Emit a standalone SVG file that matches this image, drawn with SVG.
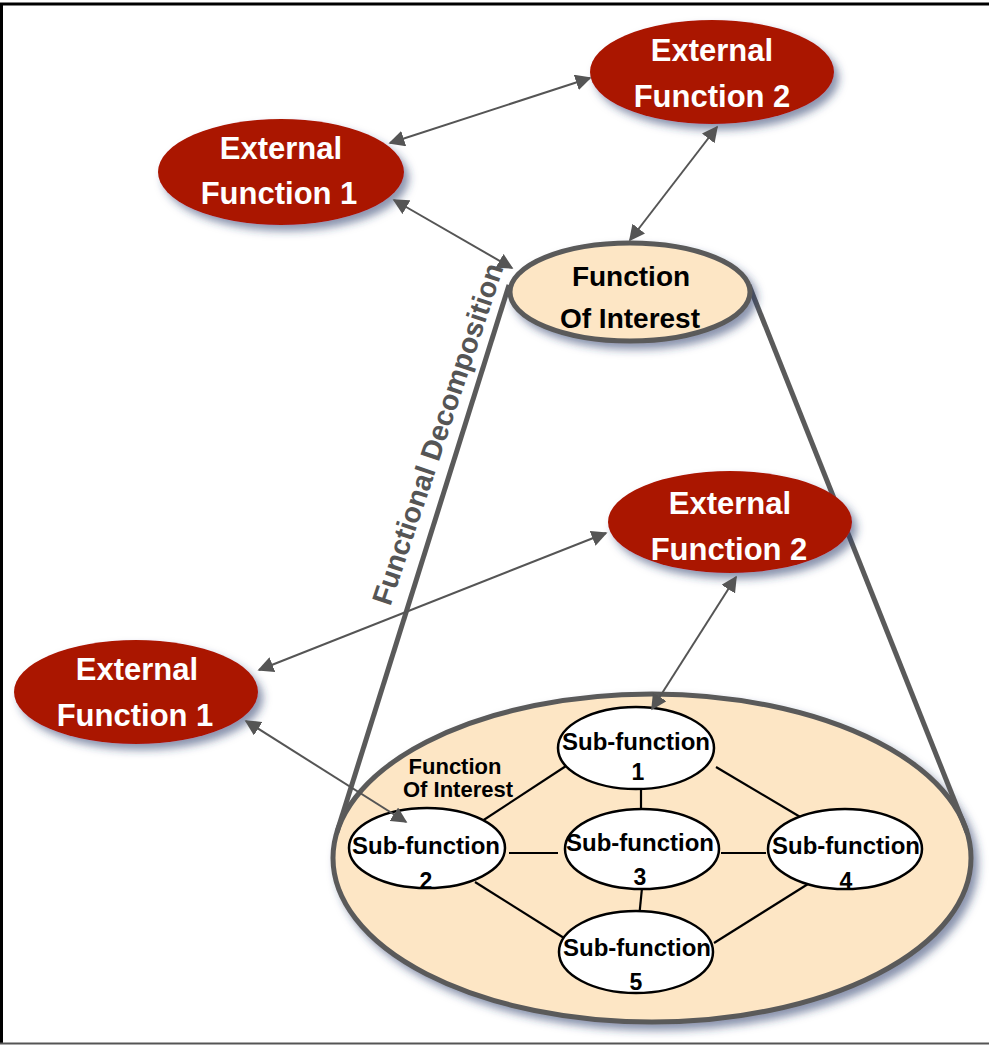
<svg xmlns="http://www.w3.org/2000/svg" width="989" height="1045" viewBox="0 0 989 1045">
<defs>
<filter id="sh" x="-20%" y="-20%" width="150%" height="160%">
<feDropShadow dx="5" dy="6" stdDeviation="4" flood-color="#2b3a6b" flood-opacity="0.55"/>
</filter>
<marker id="ahl" viewBox="0 0 10 10" refX="9" refY="5" markerWidth="8" markerHeight="8" orient="auto-start-reverse">
<path d="M0,0 L10,5 L0,10 z" fill="#555"/>
</marker>
<style>
.ext{fill:#aa1500;filter:url(#sh);}
.foi{fill:#fde6c5;stroke:#5a5a5a;stroke-width:5;filter:url(#sh);}
.sub{fill:#fff;stroke:#000;stroke-width:2.5;}
.wt{font-family:"Liberation Sans",Arial,sans-serif;font-weight:bold;fill:#fff;font-size:31px;text-anchor:middle;}
.bt{font-family:"Liberation Sans",Arial,sans-serif;font-weight:bold;fill:#000;text-anchor:middle;}
.arr{stroke:#555;stroke-width:2;fill:none;marker-start:url(#ahl);marker-end:url(#ahl);}
.lnk{stroke:#000;stroke-width:2.2;}
.side{stroke:#5a5a5a;stroke-width:5;fill:none;}
</style>
</defs>
<rect width="989" height="1045" fill="#fff"/>
<path d="M1.5,1043 L1.5,4 L989,4" fill="none" stroke="#000" stroke-width="3"/>
<line x1="0" y1="1043.5" x2="989" y2="1043.5" stroke="#555" stroke-width="2"/>

<g id="big-foi">
<ellipse class="foi" cx="652" cy="858" rx="319" ry="164"/>
<text class="bt" font-size="22" x="455" y="774">Function</text>
<text class="bt" font-size="22" x="458" y="797">Of Interest</text>
</g>

<g id="sides">
<line class="side" x1="509" y1="285" x2="337" y2="832"/>
<line class="side" x1="749" y1="285" x2="967" y2="832"/>
<text font-family="Liberation Sans,Arial,sans-serif" font-weight="bold" font-size="28.5" fill="#555" text-anchor="middle" transform="translate(447,437) rotate(-71.5)">Functional Decomposition</text>
</g>

<g id="sub-links">
<line class="lnk" x1="566" y1="766" x2="476" y2="825"/>
<line class="lnk" x1="641" y1="782" x2="641" y2="816"/>
<line class="lnk" x1="716" y1="767" x2="807" y2="821"/>
<line class="lnk" x1="509" y1="853" x2="558" y2="853"/>
<line class="lnk" x1="721" y1="853" x2="766" y2="853"/>
<line class="lnk" x1="475" y1="882" x2="564" y2="938"/>
<line class="lnk" x1="642" y1="888" x2="639" y2="918"/>
<line class="lnk" x1="808" y1="884" x2="714" y2="943"/>
</g>

<g id="ext1-top">
<ellipse class="ext" cx="281" cy="172" rx="123" ry="53"/>
<text class="wt" x="281" y="159">External</text>
<text class="wt" x="279" y="204">Function 1</text>
</g>
<g id="ext2-top">
<ellipse class="ext" cx="712" cy="72" rx="122" ry="52"/>
<text class="wt" x="712" y="61">External</text>
<text class="wt" x="712" y="107">Function 2</text>
</g>
<g id="foi-top">
<ellipse class="foi" cx="630" cy="292" rx="120" ry="49"/>
<text class="bt" font-size="28" x="631" y="286">Function</text>
<text class="bt" font-size="28" x="630" y="328">Of Interest</text>
</g>
<g id="ext2-bot">
<ellipse class="ext" cx="730" cy="522" rx="122" ry="51"/>
<text class="wt" x="730" y="514">External</text>
<text class="wt" x="729" y="560">Function 2</text>
</g>
<g id="ext1-bot">
<ellipse class="ext" cx="136" cy="692" rx="122" ry="52"/>
<text class="wt" x="137" y="680">External</text>
<text class="wt" x="135" y="726">Function 1</text>
</g>

<g id="sub1">
<ellipse class="sub" cx="636" cy="748" rx="78" ry="41"/>
<text class="bt" font-size="24" x="636" y="750">Sub-function</text>
<text class="bt" font-size="23" x="638" y="780">1</text>
</g>
<g id="sub2">
<ellipse class="sub" cx="427" cy="848" rx="78" ry="40"/>
<text class="bt" font-size="24" x="426" y="854">Sub-function</text>
<text class="bt" font-size="23" x="426" y="889">2</text>
</g>
<g id="sub3">
<ellipse class="sub" cx="642" cy="849" rx="77" ry="40"/>
<text class="bt" font-size="24" x="640" y="851">Sub-function</text>
<text class="bt" font-size="23" x="640" y="885">3</text>
</g>
<g id="sub4">
<ellipse class="sub" cx="845" cy="849" rx="77" ry="40"/>
<text class="bt" font-size="24" x="846" y="854">Sub-function</text>
<text class="bt" font-size="23" x="846" y="889">4</text>
</g>
<g id="sub5">
<ellipse class="sub" cx="636" cy="952" rx="77" ry="41"/>
<text class="bt" font-size="24" x="637" y="956">Sub-function</text>
<text class="bt" font-size="23" x="636" y="990">5</text>
</g>

<g id="connectors">
<line class="arr" x1="390" y1="143" x2="590" y2="78"/>
<line class="arr" x1="394" y1="200" x2="512" y2="268"/>
<line class="arr" x1="717" y1="127" x2="630" y2="240"/>
<line class="arr" x1="259" y1="670" x2="606" y2="533"/>
<line class="arr" x1="246" y1="721" x2="406" y2="822"/>
<line class="arr" x1="736" y1="577" x2="652" y2="709"/>
</g>
</svg>
